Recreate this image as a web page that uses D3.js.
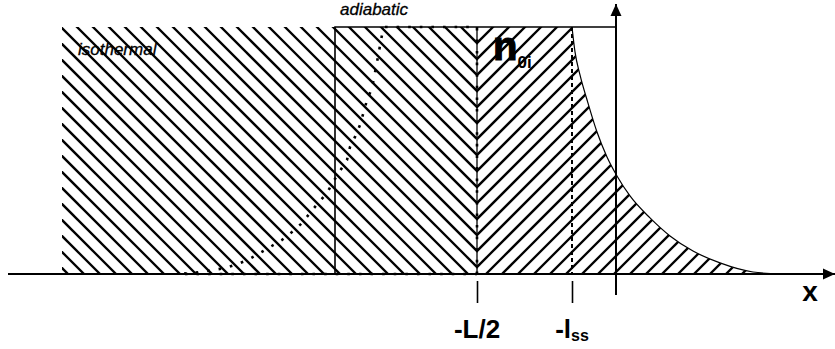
<!DOCTYPE html>
<html>
<head>
<meta charset="utf-8">
<script src="https://cdn.jsdelivr.net/npm/d3@7"></script>
<style>
  html, body { margin: 0; padding: 0; background: #ffffff; }
  svg { display: block; }
  .lbl { font-family: "Liberation Sans", Arial, sans-serif; fill: #000; }
</style>
</head>
<body>
<svg id="chart" width="835" height="349"></svg>
<script>
// positions along x (y-axis at 0)
let isoLeft = -5.54;    // left edge of isothermal block
let adiaLeft = -2.81;   // adiabatic boundary
let halfL = -1.39;      // -L/2
let lss = -0.44;        // -l_ss

let tickValues = [halfL, lss];
let tickLabels = ["-L/2", "-l"];
let tickSubs = ["", "ss"];

// sheath density profile n(x) / n0i
let curveX = [-0.44, -0.41, -0.36, -0.28, -0.19, -0.09, 0.01, 0.14, 0.34, 0.54, 0.77, 1.04, 1.37, 1.64];
let curveN = [1.0, 0.899, 0.806, 0.692, 0.575, 0.474, 0.397, 0.316, 0.227, 0.154, 0.093, 0.045, 0.008, 0];

// dotted (adiabatic) profile
let dotX = [-1.39, -1.39, -2.31, -2.34, -2.39, -2.44, -2.49, -2.56, -2.61, -2.66, -2.69, -2.83, -2.89,
            -2.98, -3.06, -3.14, -3.24, -3.34, -3.46, -3.56, -3.68, -3.79, -3.91, -4.03, -4.16, -4.36, -1.39];
let dotN = [0, 1, 1, 0.968, 0.858, 0.753, 0.704, 0.603, 0.555, 0.514, 0.462, 0.372, 0.328,
            0.287, 0.247, 0.206, 0.170, 0.138, 0.109, 0.085, 0.057, 0.040, 0.024, 0.016, 0.008, 0, 0];

let svg = d3.select("#chart");

const xScale = d3.scaleLinear().domain([-6.08, 2.19]).range([8, 835]);
const yScale = d3.scaleLinear().domain([0, 1]).range([274, 27]);

let hatchGap = 16;

// clip regions
let defs = svg.append("defs");
defs.append("clipPath").attr("id", "clipLeft")
    .append("rect")
    .attr("x", xScale(isoLeft))
    .attr("y", yScale(1))
    .attr("width", xScale(halfL) - xScale(isoLeft))
    .attr("height", yScale(0) - yScale(1));

let rightPts = [[halfL, 1]];
for (i = 0; i < curveX.length; i++) {
    rightPts.push([curveX[i], curveN[i]]);
}
let area = d3.area()
    .x(d => xScale(d[0]))
    .y0(yScale(0))
    .y1(d => yScale(d[1]))
    .curve(d3.curveMonotoneX);
defs.append("clipPath").attr("id", "clipRight")
    .append("path")
    .attr("d", area(rightPts));

// hatching: "\" on the left, "/" on the right, meeting at -L/2
let x0 = xScale(halfL), y0 = yScale(1);
let leftHatch = svg.append("g").attr("clip-path", "url(#clipLeft)")
    .attr("stroke", "#000").attr("stroke-width", 2.3);
let rightHatch = svg.append("g").attr("clip-path", "url(#clipRight)")
    .attr("stroke", "#000").attr("stroke-width", 2.3);
for (k = -5; k <= 50; k++) {
    let yk = y0 + k * hatchGap;
    leftHatch.append("line")
        .attr("x1", x0 - 1000).attr("y1", yk - 1000)
        .attr("x2", x0 + 10).attr("y2", yk + 10);
    rightHatch.append("line")
        .attr("x1", x0 - 10).attr("y1", yk + 10)
        .attr("x2", x0 + 1000).attr("y2", yk - 1000);
}

// curve outline
let line = d3.line()
    .x(d => xScale(d[0]))
    .y(d => yScale(d[1]))
    .curve(d3.curveMonotoneX);
svg.append("path")
    .attr("d", line(rightPts.slice(1)))
    .attr("fill", "none")
    .attr("stroke", "#000")
    .attr("stroke-width", 1.2);

// adiabatic box: left side and top
svg.append("path")
    .attr("d", d3.line()([[xScale(adiaLeft), yScale(0)], [xScale(adiaLeft), yScale(1)], [xScale(0), yScale(1)]]))
    .attr("fill", "none")
    .attr("stroke", "#000")
    .attr("stroke-width", 1.6);

// -L/2 divider
svg.append("line")
    .attr("x1", xScale(halfL)).attr("x2", xScale(halfL))
    .attr("y1", yScale(1)).attr("y2", yScale(0))
    .attr("stroke", "#000").attr("stroke-width", 1.3);

// dotted adiabatic profile
let dotPts = dotX.map((d, i) => [d, dotN[i]]);
svg.append("path")
    .attr("d", d3.line().x(d => xScale(d[0])).y(d => yScale(d[1]))(dotPts))
    .attr("fill", "none")
    .attr("stroke", "#000")
    .attr("stroke-width", 2.6)
    .attr("stroke-dasharray", "2.6 9");

// -l_ss dashed line
svg.append("line")
    .attr("x1", xScale(lss)).attr("x2", xScale(lss))
    .attr("y1", yScale(1)).attr("y2", yScale(0))
    .attr("stroke", "#000").attr("stroke-width", 2)
    .attr("stroke-dasharray", "4 3");

// arrow heads
defs.append("marker").attr("id", "arrow")
    .attr("viewBox", "0 0 12 12")
    .attr("refX", 12).attr("refY", 6)
    .attr("markerWidth", 12).attr("markerHeight", 12)
    .attr("markerUnits", "userSpaceOnUse")
    .attr("orient", "auto")
    .append("path")
    .attr("d", "M0,0.5 L12,6 L0,11.5 Z")
    .attr("fill", "#000");

// x axis
svg.append("line")
    .attr("x1", xScale(-6.08)).attr("x2", xScale(2.19))
    .attr("y1", yScale(0)).attr("y2", yScale(0))
    .attr("stroke", "#000").attr("stroke-width", 2.2)
    .attr("marker-end", "url(#arrow)");

// y axis
svg.append("line")
    .attr("x1", xScale(0)).attr("x2", xScale(0))
    .attr("y1", yScale(-0.085)).attr("y2", yScale(1.093))
    .attr("stroke", "#000").attr("stroke-width", 2)
    .attr("marker-end", "url(#arrow)");

// ticks below the axis
let tickAxis = svg.append("g")
    .attr("transform", "translate(0, 281)")
    .call(d3.axisBottom(xScale)
        .tickValues(tickValues)
        .tickSize(22)
        .tickFormat(""));
tickAxis.select(".domain").remove();
tickAxis.selectAll(".tick line").attr("stroke", "#000").attr("stroke-width", 1.6);

// tick labels
let lbl = svg.append("g").selectAll("text")
    .data(tickValues)
    .enter()
    .append("text")
    .attr("class", "lbl")
    .attr("x", d => xScale(d))
    .attr("y", 338)
    .attr("text-anchor", "middle")
    .attr("font-size", 26)
    .attr("font-weight", "bold");
lbl.append("tspan").text((d, i) => tickLabels[i]);
lbl.append("tspan")
    .attr("font-size", 16)
    .attr("dy", 3)
    .text((d, i) => tickSubs[i]);

// x label
svg.append("text")
    .attr("class", "lbl")
    .attr("x", 810).attr("y", 301)
    .attr("text-anchor", "middle")
    .attr("font-size", 28)
    .attr("font-weight", "bold")
    .text("x");

// region labels
svg.append("text")
    .attr("class", "lbl")
    .attr("x", xScale(isoLeft) + 16).attr("y", 55)
    .attr("font-size", 17)
    .attr("font-style", "italic")
    .attr("stroke", "#000").attr("stroke-width", 0.3)
    .text("isothermal");

svg.append("text")
    .attr("class", "lbl")
    .attr("x", xScale(adiaLeft) + 5).attr("y", 15)
    .attr("font-size", 17)
    .attr("font-style", "italic")
    .attr("stroke", "#000").attr("stroke-width", 0.3)
    .text("adiabatic");

// n0i
let n0 = svg.append("text")
    .attr("class", "lbl")
    .attr("x", 493).attr("y", 60)
    .attr("font-weight", "bold");
n0.append("tspan").attr("font-size", 40)
    .attr("stroke", "#000").attr("stroke-width", 1.2)
    .text("n");
n0.append("tspan").attr("font-size", 17).attr("dy", 8).text("0i");
</script>
</body>
</html>
